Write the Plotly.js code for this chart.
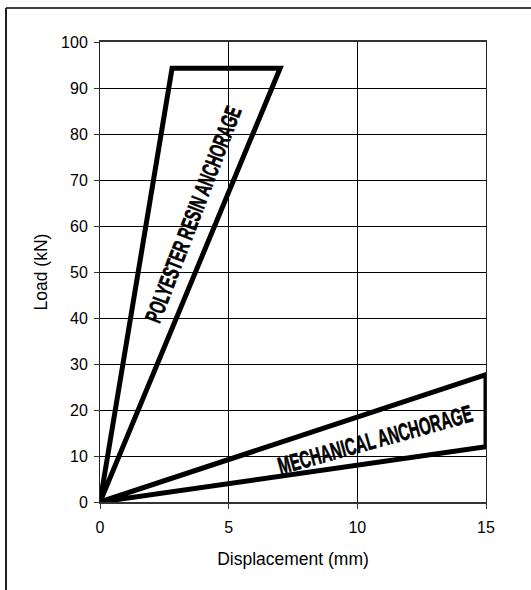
<!DOCTYPE html>
<html>
<head>
<meta charset="utf-8">
<script src="https://cdn.plot.ly/plotly-3.0.1.min.js"></script>
<style>html,body{margin:0;padding:0;background:#fff;}#chart{width:531px;height:590px;}</style>
</head>
<body>
<div id="chart"></div>
<script>
// Polyester resin anchorage envelope (closed outline)
const polyesterX = [0, 2.8, 7.0, 0];
const polyesterY = [0, 94.3, 94.3, 0];
// Mechanical anchorage envelope (closed outline)
const mechanicalX = [0, 15, 15, 0];
const mechanicalY = [0, 27.7, 12, 0];

const xTicks = [0, 5, 10, 15];
const yTicks = [0, 10, 20, 30, 40, 50, 60, 70, 80, 90, 100];

const labelPolyester = "POLYESTER RESIN ANCHORAGE";
const labelMechanical = "MECHANICAL ANCHORAGE";

const W = 531, H = 590, L = 100, R = 45, T = 42, B = 88;
const pw = W - L - R, ph = H - T - B;
const px = p => (p - L) / pw;
const py = p => (H - B - p) / ph;

const traces = [
  {x: polyesterX, y: polyesterY, mode: 'lines', line: {color: '#000', width: 5}, hoverinfo: 'skip', showlegend: false},
  {x: mechanicalX, y: mechanicalY, mode: 'lines', line: {color: '#000', width: 5}, hoverinfo: 'skip', showlegend: false}
];

const baseFont = '"Liberation Sans", Arial, Helvetica, sans-serif';
const labelFontP = {family: baseFont, size: 23, color: '#000', weight: 'bold'};
const labelFontM = {family: baseFont, size: 24, color: '#000', weight: 'bold'};

const layout = {
  width: W, height: H,
  margin: {l: L, r: R, t: T, b: B},
  paper_bgcolor: '#fff', plot_bgcolor: '#fff',
  font: {family: baseFont, size: 16, color: '#000'},
  showlegend: false,
  xaxis: {
    range: [0, 15], tickvals: xTicks, ticktext: xTicks.map(String),
    tickfont: {family: baseFont, size: 16, color: '#000'},
    showgrid: true, gridcolor: '#000', gridwidth: 1,
    zeroline: false, showline: true, linecolor: '#333', linewidth: 2, mirror: true,
    ticks: 'outside', ticklen: 5, tickcolor: '#333', tickwidth: 1,
    ticklabelstandoff: 5,
    title: {text: 'Displacement (mm)', font: {family: baseFont, size: 17.5, color: '#000'}, standoff: 18},
    fixedrange: true
  },
  yaxis: {
    range: [0, 100], tickvals: yTicks, ticktext: yTicks.map(String),
    tickfont: {family: baseFont, size: 16, color: '#000'},
    showgrid: true, gridcolor: '#000', gridwidth: 1,
    zeroline: false, showline: true, linecolor: '#222', linewidth: 1, mirror: true,
    ticks: 'outside', ticklen: 5, tickcolor: '#333', tickwidth: 1,
    ticklabelstandoff: 3,
    title: {text: 'Load (kN)', font: {family: baseFont, size: 17.5, color: '#000'}, standoff: 8},
    fixedrange: true
  },
  annotations: [
    {x: 3.6, y: 62.5, xref: 'x', yref: 'y', text: labelPolyester, showarrow: false, textangle: -69, font: labelFontP},
    {x: 10.7, y: 13.6, xref: 'x', yref: 'y', text: labelMechanical, showarrow: false, textangle: -15.5, font: labelFontM}
  ],
  shapes: [
    {type: 'line', xref: 'paper', yref: 'paper', x0: px(6), x1: px(W), y0: py(8), y1: py(8), line: {color: '#404040', width: 2}},
    {type: 'line', xref: 'paper', yref: 'paper', x0: px(6), x1: px(6), y0: py(8), y1: py(H), line: {color: '#202020', width: 2}}
  ]
};

Plotly.newPlot('chart', traces, layout, {displayModeBar: false, staticPlot: true}).then(function () {
  // condense and embolden the label lettering (heavy narrow face, as in the reference)
  document.querySelectorAll('#chart .annotation-text').forEach(function (t) {
    const bb = t.getBBox();
    const cx = bb.x + bb.width / 2;
    t.setAttribute('transform', 'translate(' + cx + ',0) scale(0.62,1) translate(' + (-cx) + ',0)');
    t.style.stroke = '#000';
    t.style.strokeWidth = '0.6px';
  });
});
</script>
</body>
</html>
